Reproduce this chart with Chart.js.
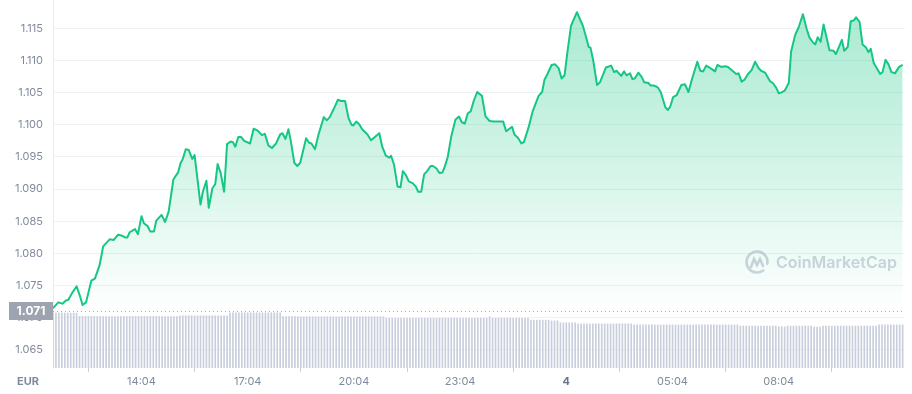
<!DOCTYPE html>
<html>
<head>
<meta charset="utf-8">
<script src="https://cdn.jsdelivr.net/npm/chart.js@4.4.1/dist/chart.umd.min.js"></script>
<style>
  html, body { margin: 0; padding: 0; background: #fff; }
  #wrap { width: 912px; height: 394px; position: relative; }
</style>
</head>
<body>
<div id="wrap"><canvas id="chart"></canvas></div>
<script>
// minutes since the start of the 24h window (11:34)
const times = [
    0, 9, 16, 22, 26, 32, 40, 46, 50, 56, 65, 71, 79, 85, 96, 103, 110, 116, 122, 126,
    130, 139, 144, 150, 154, 160, 165, 171, 175, 184, 190, 196, 204, 212, 216, 220, 225, 230, 236, 240,
    250, 254, 260, 264, 270, 275, 279, 284, 290, 295, 301, 305, 309, 314, 319, 324, 334, 340, 347, 354,
    359, 365, 371, 378, 385, 389, 394, 399, 403, 409, 414, 419, 429, 434, 438, 444, 450, 459, 464, 469, 477, 483,
    488, 495, 501, 506, 509, 514, 519, 524, 533, 539, 544, 553, 558, 564, 570, 573, 578, 584, 589, 593,
    598, 603, 610, 615, 619, 624, 629, 634, 640, 644, 650, 655, 660, 664, 669, 675, 682, 688, 693, 698, 703, 708, 713, 719,
    727, 733, 740, 747, 763, 768, 778, 782, 788, 794, 798, 806, 813, 823, 829, 833, 838, 845, 851, 857,
    862, 867, 872, 878, 888, 898, 902, 908, 911, 916, 922, 927, 937, 946, 951, 955,
    963, 968, 972, 978, 982, 986, 992, 998, 1002, 1009, 1013, 1019, 1025, 1030, 1034, 1038, 1042, 1046, 1051, 1057,
    1065, 1071, 1077, 1083, 1092, 1097, 1102, 1107, 1116, 1122, 1126, 1133, 1139, 1144, 1153, 1158, 1162, 1167, 1172, 1178, 1184, 1190, 1196,
    1200, 1207, 1215, 1220, 1226, 1230, 1234, 1240, 1247, 1251, 1258, 1264, 1271, 1277, 1282, 1288, 1292, 1296, 1301, 1306,
    1316, 1323, 1327, 1333, 1337, 1341, 1347, 1352, 1357, 1361, 1367, 1372, 1378, 1382, 1386, 1391, 1395, 1402, 1406, 1411,
    1416, 1421, 1427, 1434, 1440
];

const prices = [
    1.0715, 1.0724, 1.0722, 1.0727, 1.0728, 1.0738, 1.0749, 1.0733, 1.0720, 1.0724, 1.0758, 1.0761, 1.0782, 1.0811, 1.0822, 1.0821, 1.0829, 1.0828, 1.0825, 1.0825,
    1.0833, 1.0838, 1.0830, 1.0858, 1.0847, 1.0843, 1.0834, 1.0834, 1.0851, 1.0860, 1.0849, 1.0865, 1.0915, 1.0926, 1.0940, 1.0947, 1.0962, 1.0961, 1.0947, 1.0953,
    1.0876, 1.0896, 1.0913, 1.0871, 1.0901, 1.0908, 1.0939, 1.0926, 1.0896, 1.0970, 1.0974, 1.0973, 1.0966, 1.0981, 1.0981, 1.0975, 1.0971, 1.0994, 1.0991, 1.0984,
    1.0986, 1.0968, 1.0964, 1.0971, 1.0985, 1.0987, 1.0978, 1.0993, 1.0975, 1.0941, 1.0936, 1.0941, 1.0979, 1.0972, 1.0971, 1.0962, 1.0985, 1.1012, 1.1007, 1.1012, 1.1027, 1.1039,
    1.1037, 1.1037, 1.1010, 1.1000, 1.0999, 1.1005, 1.1001, 1.0993, 1.0985, 1.0976, 1.0980, 1.0987, 1.0966, 1.0952, 1.0949, 1.0952, 1.0938, 1.0904, 1.0903, 1.0928,
    1.0922, 1.0912, 1.0909, 1.0904, 1.0896, 1.0896, 1.0923, 1.0928, 1.0936, 1.0936, 1.0932, 1.0925, 1.0926, 1.0935, 1.0950, 1.0982, 1.1008, 1.1013, 1.1004, 1.1002, 1.1018, 1.1021, 1.1037, 1.1051,
    1.1045, 1.1013, 1.1006, 1.1005, 1.1005, 1.0990, 1.0997, 1.0985, 1.0980, 1.0971, 1.0973, 1.0996, 1.1021, 1.1045, 1.1051, 1.1070, 1.1079, 1.1093, 1.1094, 1.1088,
    1.1072, 1.1077, 1.1114, 1.1154, 1.1175, 1.1154, 1.1141, 1.1121, 1.1120, 1.1098, 1.1062, 1.1066, 1.1089, 1.1092, 1.1082, 1.1084,
    1.1076, 1.1083, 1.1077, 1.1080, 1.1071, 1.1072, 1.1081, 1.1074, 1.1066, 1.1065, 1.1061, 1.1061, 1.1058, 1.1051, 1.1039, 1.1027, 1.1023, 1.1028, 1.1043, 1.1046,
    1.1062, 1.1063, 1.1051, 1.1071, 1.1098, 1.1084, 1.1083, 1.1092, 1.1087, 1.1083, 1.1093, 1.1090, 1.1091, 1.1090, 1.1083, 1.1079, 1.1080, 1.1067, 1.1070, 1.1079, 1.1085, 1.1098, 1.1088,
    1.1084, 1.1081, 1.1068, 1.1065, 1.1057, 1.1049, 1.1050, 1.1053, 1.1065, 1.1114, 1.1140, 1.1152, 1.1172, 1.1150, 1.1136, 1.1128, 1.1125, 1.1136, 1.1129, 1.1156,
    1.1116, 1.1115, 1.1110, 1.1123, 1.1132, 1.1115, 1.1121, 1.1161, 1.1162, 1.1167, 1.1160, 1.1125, 1.1120, 1.1113, 1.1118, 1.1096, 1.1090, 1.1079, 1.1082, 1.1101,
    1.1094, 1.1082, 1.1080, 1.1090, 1.1093
];

// volume bars, one every 5 minutes (one row per hour)
const volumes = [
    14.9, 14.9, 14.9, 14.9, 14.9, 14.9, 14.9, 14.9, 14.9, 14.0, 14.0, 14.0,
    14.0, 14.0, 14.0, 14.0, 14.0, 14.0, 14.0, 14.0, 14.0, 14.0, 14.0, 14.0,
    14.0, 14.0, 14.0, 14.0, 14.0, 14.0, 14.0, 14.0, 14.0, 14.0, 14.0, 14.0,
    14.0, 14.0, 14.0, 14.0, 14.0, 14.0, 14.0, 14.2, 14.2, 14.2, 14.2, 14.2,
    14.2, 14.2, 14.2, 14.2, 14.2, 14.2, 14.2, 14.2, 14.2, 14.2, 14.2, 14.2,
    15.0, 15.0, 15.0, 15.0, 15.0, 15.0, 15.0, 15.0, 15.0, 15.0, 15.0, 15.0,
    15.0, 15.0, 15.0, 15.0, 15.0, 15.0, 14.0, 14.0, 14.0, 14.0, 14.0, 14.0,
    13.9, 13.9, 13.9, 13.9, 13.9, 13.9, 13.9, 13.9, 13.9, 13.9, 13.9, 13.9,
    13.9, 13.9, 13.9, 13.9, 13.9, 13.9, 13.9, 13.9, 13.9, 13.9, 13.9, 13.9,
    13.9, 13.9, 13.9, 13.9, 13.9, 13.5, 13.5, 13.5, 13.5, 13.5, 13.5, 13.5,
    13.5, 13.5, 13.5, 13.5, 13.5, 13.5, 13.5, 13.5, 13.5, 13.5, 13.5, 13.5,
    13.5, 13.5, 13.5, 13.5, 13.5, 13.5, 13.5, 13.5, 13.5, 13.5, 13.5, 13.5,
    13.5, 13.5, 13.5, 13.5, 13.9, 13.5, 13.5, 13.5, 13.5, 13.5, 13.5, 13.5,
    13.5, 13.5, 13.5, 13.5, 13.5, 13.5, 13.0, 13.0, 13.0, 13.0, 13.0, 13.0,
    13.0, 12.8, 12.8, 12.8, 12.3, 12.3, 12.3, 12.3, 12.3, 12.3, 12.0, 12.0,
    12.0, 12.0, 12.0, 12.0, 12.0, 12.0, 12.0, 12.0, 12.0, 12.0, 12.0, 12.0,
    12.0, 12.0, 12.0, 12.0, 12.0, 11.7, 11.7, 11.7, 11.7, 11.7, 11.7, 11.7,
    11.7, 11.7, 11.7, 11.7, 11.7, 11.7, 11.7, 11.7, 11.7, 11.7, 11.7, 11.7,
    11.7, 11.7, 11.7, 11.7, 11.7, 11.7, 11.7, 11.7, 11.7, 11.7, 11.7, 11.7,
    11.7, 11.7, 11.7, 11.7, 11.7, 11.4, 11.4, 11.4, 11.4, 11.4, 11.4, 11.4,
    11.4, 11.4, 11.4, 11.4, 11.4, 11.4, 11.2, 11.2, 11.2, 11.4, 11.4, 11.4,
    11.4, 11.4, 11.4, 11.4, 11.4, 11.4, 11.1, 11.1, 11.1, 11.4, 11.4, 11.4,
    11.4, 11.4, 11.4, 11.4, 11.4, 11.4, 11.4, 11.4, 11.4, 11.4, 11.4, 11.4,
    11.4, 11.4, 11.4, 11.4, 11.7, 11.7, 11.7, 11.7, 11.7, 11.7, 11.7, 11.7, 11.7
];

const priceTicks = [1.065, 1.070, 1.075, 1.080, 1.085, 1.090, 1.095, 1.100, 1.105, 1.110, 1.115];
const timeTicks = [150, 330, 510, 690, 870, 1050, 1230];
const timeLabels = ['14:04', '17:04', '20:04', '23:04', '4', '05:04', '08:04'];
const refPrice = 1.071;
const currency = 'EUR';
const watermark = 'CoinMarketCap';

const GREEN = '#16c784';
const TEXT = '#808a9d';
const FONT = 'Inter, "Noto Sans", sans-serif';

const linePoints = times.map((t, i) => ({ x: t, y: prices[i] }));
const volPoints = volumes.map((v, i) => ({ x: i * 5, y: v }));

function fillGradient(context) {
    const { ctx, chartArea, scales } = context.chart;
    if (!chartArea) return 'rgba(22,199,132,0.2)';
    const bottom = scales.y.getPixelForValue(refPrice);
    const g = ctx.createLinearGradient(0, chartArea.top, 0, bottom);
    g.addColorStop(0, 'rgba(22,199,132,0.38)');
    g.addColorStop(0.55, 'rgba(22,199,132,0.18)');
    g.addColorStop(1, 'rgba(22,199,132,0)');
    return g;
}

// dotted reference line, price tag, currency label and watermark
const overlay = {
    id: 'overlay',
    beforeDatasetsDraw(chart) {
        const { ctx } = chart;
        const cx = 757, cy = 262;
        ctx.save();
        ctx.strokeStyle = 'rgba(170,176,196,0.55)';
        ctx.lineWidth = 2.6;
        ctx.lineCap = 'round';
        ctx.beginPath(); ctx.arc(cx, cy, 10.5, 0.3 * Math.PI, 2.05 * Math.PI); ctx.stroke();
        ctx.beginPath();
        ctx.moveTo(cx - 6, cy + 5); ctx.lineTo(cx - 3, cy - 3); ctx.lineTo(cx, cy + 3);
        ctx.lineTo(cx + 3, cy - 3); ctx.lineTo(cx + 6, cy + 4);
        ctx.stroke();
        ctx.fillStyle = 'rgba(170,176,196,0.55)';
        ctx.font = '600 16px ' + FONT;
        ctx.textAlign = 'left'; ctx.textBaseline = 'middle';
        ctx.fillText(watermark, 776, cy + 1);
        ctx.restore();
    },
    afterDraw(chart) {
        const { ctx, chartArea, scales } = chart;
        const y = Math.round(scales.y.getPixelForValue(refPrice)) + 0.5;
        ctx.save();
        ctx.strokeStyle = '#a4aab6';
        ctx.lineWidth = 1;
        ctx.setLineDash([1, 3]);
        ctx.beginPath(); ctx.moveTo(chartArea.left, y); ctx.lineTo(chartArea.right, y); ctx.stroke();
        ctx.setLineDash([]);
        ctx.fillStyle = '#9da3af';
        ctx.fillRect(9, y - 9.5, chartArea.left - 9, 18);
        ctx.fillStyle = '#ffffff';
        ctx.font = 'bold 12px ' + FONT;
        ctx.textAlign = 'center'; ctx.textBaseline = 'middle';
        ctx.fillText(refPrice.toFixed(3), (9 + chartArea.left) / 2, y);
        ctx.fillStyle = TEXT;
        ctx.font = 'bold 11px ' + FONT;
        ctx.textAlign = 'left';
        ctx.fillText(currency, 17, 382);
        ctx.restore();
    }
};

new Chart(document.getElementById('chart'), {
    type: 'line',
    data: {
        datasets: [
            {
                type: 'line', data: linePoints, yAxisID: 'y', order: 0,
                borderColor: GREEN, borderWidth: 2, pointRadius: 0, tension: 0,
                fill: 'start', backgroundColor: fillGradient,
                borderJoinStyle: 'round',
            },
            {
                type: 'bar', data: volPoints, yAxisID: 'yv', order: 1,
                backgroundColor: '#c8cedb', barThickness: 1,
            },
        ],
    },
    options: {
        responsive: true,
        maintainAspectRatio: false,
        animation: false,
        layout: { padding: { top: 0, right: 7, bottom: 0, left: 0 } },
        plugins: { legend: { display: false }, tooltip: { enabled: false } },
        scales: {
            x: {
                type: 'linear', min: 0, max: 1444, offset: false,
                afterBuildTicks: a => { a.ticks = timeTicks.map(v => ({ value: v })); },
                afterFit: a => { a.height = 26; a.paddingLeft = 0; a.paddingRight = 0; },
                ticks: {
                    autoSkip: false, maxRotation: 0, padding: 3,
                    callback: (v, i) => timeLabels[i],
                    color: c => (c.tick && c.tick.label === '4') ? '#6b7488' : TEXT,
                    font: c => ({ family: FONT, size: 11, weight: (c.tick && c.tick.label === '4') ? 'bold' : 'normal' }),
                },
                grid: { drawOnChartArea: false, drawTicks: true, tickLength: 4, color: '#c9ced8' },
                border: { display: false },
            },
            y: {
                position: 'left', min: 1.0622, max: 1.1194,
                afterBuildTicks: a => { a.ticks = priceTicks.map(v => ({ value: v })); },
                afterFit: a => { a.width = 53; a.paddingTop = 0; a.paddingBottom = 0; },
                ticks: { padding: 10, color: TEXT, font: { family: FONT, size: 11 }, callback: v => v.toFixed(3) },
                grid: { color: '#eff1f4', drawTicks: false },
                border: { display: true, color: '#e8ebef' },
            },
            yv: { display: false, min: 0, max: 100 },
        },
    },
    plugins: [overlay],
});
</script>
</body>
</html>
